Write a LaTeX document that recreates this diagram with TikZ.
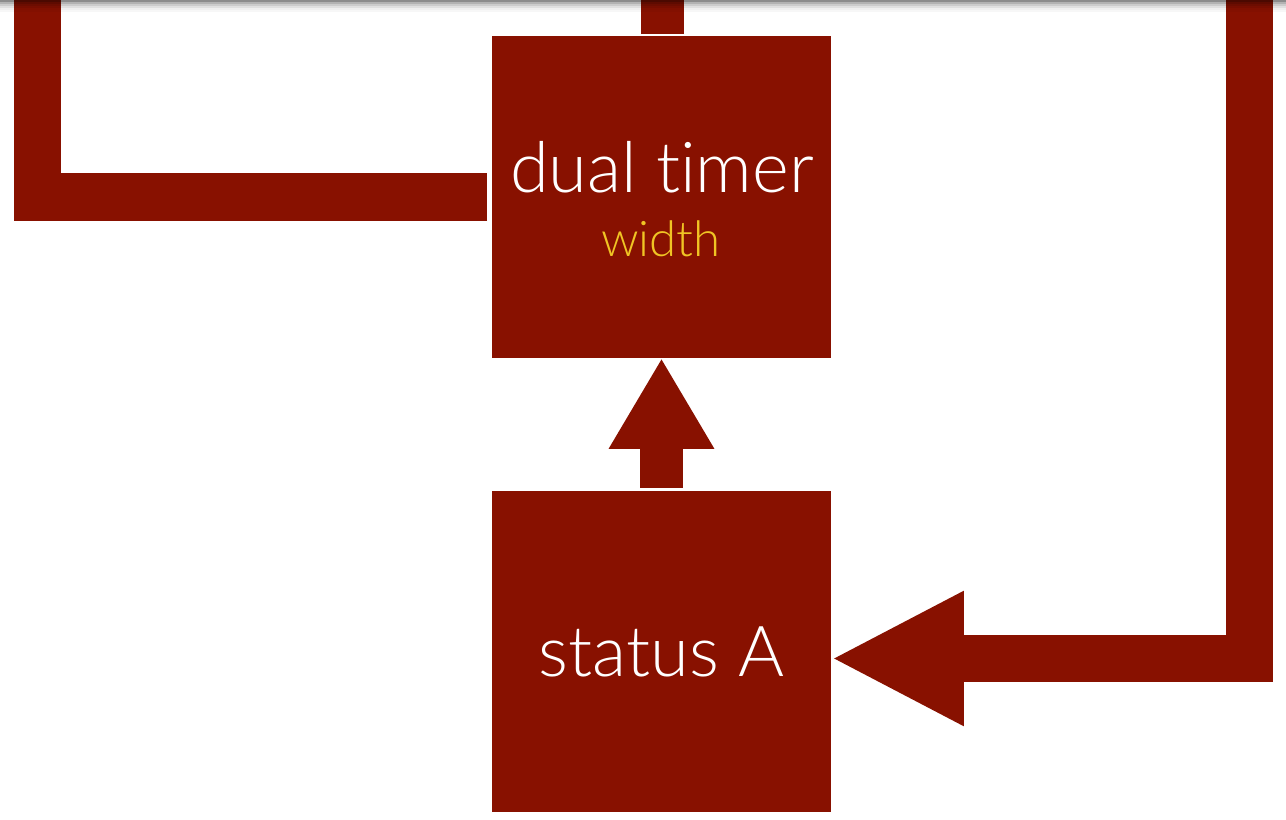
\documentclass[tikz,border=0pt]{standalone}
\usepackage{fontspec}
\setmainfont{Lato Light}[Ligatures=NoCommon]
\usetikzlibrary{arrows.meta}
\definecolor{boxred}{RGB}{136,17,0}
\definecolor{labyellow}{RGB}{240,196,36}
\begin{document}
\begin{tikzpicture}[x=0.02cm,y=-0.02cm,
  blockbox/.style={fill=boxred,draw=none,inner sep=0pt,outer sep=0pt,
    minimum width=6.78cm,minimum height=6.44cm,text=white,font=\fontsize{40}{48}\selectfont},
  wire/.style={draw=boxred,line join=miter,line cap=butt},
  shade/.style={fill=black,draw=none}]
\useasboundingbox (0,0) rectangle (1286,820);
% boxes
\node[blockbox] (dual) at (661.5,197) {};
\node[blockbox] (status) at (661.5,651.5) {status A};
\node[anchor=base,text=white,font=\fontsize{40}{48}\selectfont,inner sep=0pt] (dualtxt) at (662,193) {dual timer};
\node[anchor=base,text=labyellow,font=\fontsize{28}{34}\selectfont,inner sep=0pt] (widthtxt) at (661,257) {width};
% free ends at the top edge
\coordinate (topL) at (37.5,0);
\coordinate (topM) at (662.5,0);
\coordinate (topR) at (1249.5,0);
\coordinate (cornerL) at (37.5,197);
\coordinate (cornerR) at (1249.5,658.5);
% connectors
\draw[wire,line width=0.96cm] ([xshift=-0.1cm]dual.west) -- (cornerL) -- (topL);
\draw[wire,line width=0.86cm] ([yshift=0.04cm]dual.north -| topM) -- (topM);
\draw[wire,line width=0.93cm,-{Triangle[length=2.66cm,width=2.5cm]}]
  (topR) -- (cornerR) -- (cornerR -| status.east);
\draw[wire,line width=0.86cm,-{Triangle[length=1.82cm,width=1.98cm]}]
  ([yshift=0.06cm]status.north) -- (dual.south);
% window edge shadow at the top
\fill[shade,opacity=0.45] (0,0) rectangle (1286,2);
\fill[shade,opacity=0.3] (0,2) rectangle (1286,4);
\fill[shade,opacity=0.2] (0,4) rectangle (1286,6);
\fill[shade,opacity=0.12] (0,6) rectangle (1286,8);
\fill[shade,opacity=0.06] (0,8) rectangle (1286,10);
\fill[shade,opacity=0.03] (0,10) rectangle (1286,12);
\end{tikzpicture}
\end{document}
